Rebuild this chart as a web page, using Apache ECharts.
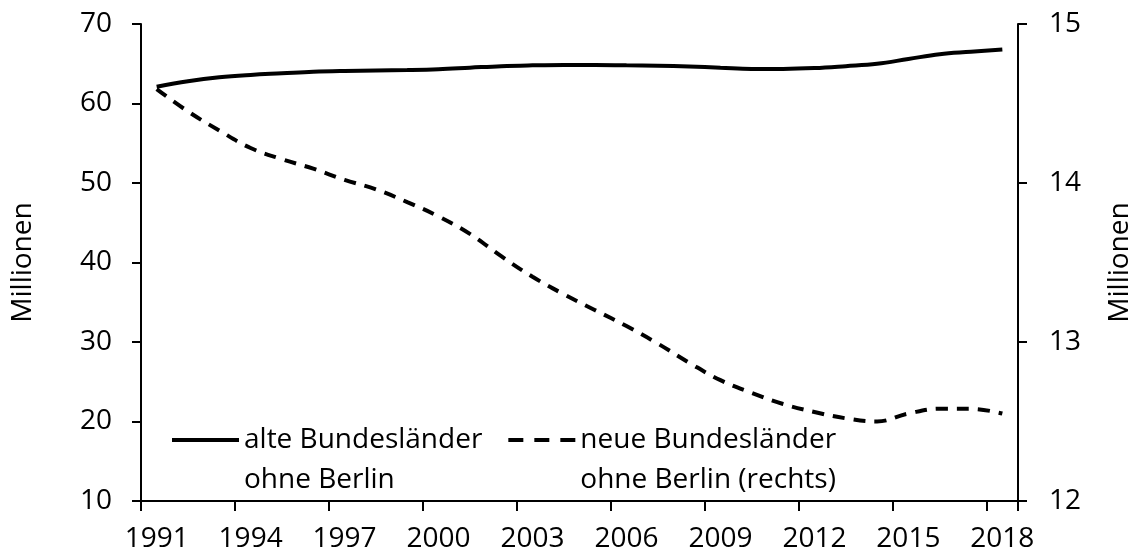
<!DOCTYPE html>
<html>
<head>
<meta charset="utf-8">
<script src="https://cdn.jsdelivr.net/npm/echarts@6/dist/echarts.min.js"></script>
<style>html,body{margin:0;padding:0;background:#fff}#c{width:1142px;height:557px}</style>
</head>
<body>
<div id="c"></div>
<script>
const years = ['1991','1992','1993','1994','1995','1996','1997','1998','1999','2000','2001','2002','2003','2004','2005','2006','2007','2008','2009','2010','2011','2012','2013','2014','2015','2016','2017','2018'];
const alteLaender = [62.1,62.8,63.3,63.6,63.8,64.0,64.1,64.15,64.2,64.3,64.5,64.7,64.8,64.85,64.85,64.8,64.75,64.65,64.5,64.35,64.35,64.45,64.7,65.0,65.6,66.2,66.5,66.8];
const neueLaender = [14.59,14.45,14.33,14.22,14.15,14.09,14.02,13.96,13.88,13.79,13.68,13.54,13.41,13.30,13.20,13.10,12.99,12.87,12.76,12.68,12.61,12.56,12.52,12.50,12.55,12.58,12.58,12.55];
const leftTicks = {min: 10, max: 70, interval: 10};
const rightTicks = {min: 12, max: 15, interval: 1};
const seriesNames = ['alte Bundesländer\nohne Berlin', 'neue Bundesländer\nohne Berlin (rechts)'];
const axisName = 'Millionen';

const FONT = 'Open Sans';
const FS = 28;
const chart = echarts.init(document.getElementById('c'), null, {renderer: 'canvas'});
const axisLineStyle = {color: '#000', width: 2};
chart.setOption({
  animation: false,
  backgroundColor: '#fff',
  textStyle: {fontFamily: FONT, color: '#000'},
  grid: {left: 141, right: 111, top: 24, bottom: 56, containLabel: false},
  legend: {
    left: 170, top: 380, padding: 0, itemGap: 24,
    itemWidth: 67, itemHeight: 14,
    itemStyle: {opacity: 0, borderWidth: 0},
    lineStyle: {width: 4, color: '#000'},
    formatter: function (name) { return ' \n' + name; },
    textStyle: {fontFamily: FONT, fontSize: FS, color: '#000', lineHeight: 40},
    data: [
      {name: seriesNames[0], lineStyle: {width: 4, type: 'solid'}},
      {name: seriesNames[1], lineStyle: {width: 4, type: [15, 11]}}
    ]
  },
  xAxis: {
    type: 'category', data: years, boundaryGap: true,
    axisLine: {lineStyle: axisLineStyle},
    axisTick: {show: true, interval: 2, length: 10, lineStyle: axisLineStyle},
    axisLabel: {interval: 2, margin: 24, fontSize: FS, color: '#000', fontFamily: FONT},
    splitLine: {show: false}
  },
  yAxis: [
    {
      type: 'value', position: 'left', min: leftTicks.min, max: leftTicks.max, interval: leftTicks.interval,
      name: axisName, nameLocation: 'middle', nameRotate: 90, nameGap: 104,
      nameTextStyle: {fontSize: FS, color: '#000', fontFamily: FONT},
      axisLine: {show: true, lineStyle: axisLineStyle},
      axisTick: {show: true, length: 9, lineStyle: axisLineStyle},
      axisLabel: {margin: 29, fontSize: FS, color: '#000', fontFamily: FONT},
      splitLine: {show: false}
    },
    {
      type: 'value', position: 'right', min: rightTicks.min, max: rightTicks.max, interval: rightTicks.interval,
      name: axisName, nameLocation: 'middle', nameRotate: 90, nameGap: 88,
      nameTextStyle: {fontSize: FS, color: '#000', fontFamily: FONT},
      axisLine: {show: true, lineStyle: axisLineStyle},
      axisTick: {show: true, length: 9, lineStyle: axisLineStyle},
      axisLabel: {margin: 31, fontSize: FS, color: '#000', fontFamily: FONT},
      splitLine: {show: false}
    }
  ],
  series: [
    {
      name: seriesNames[0], type: 'line', yAxisIndex: 0, data: alteLaender,
      symbol: 'none', smooth: 0.4, color: '#000',
      lineStyle: {color: '#000', width: 4}
    },
    {
      name: seriesNames[1], type: 'line', yAxisIndex: 1, data: neueLaender,
      symbol: 'none', smooth: 0.4, color: '#000',
      lineStyle: {color: '#000', width: 4, type: [12, 9]}
    }
  ]
});
</script>
</body>
</html>
